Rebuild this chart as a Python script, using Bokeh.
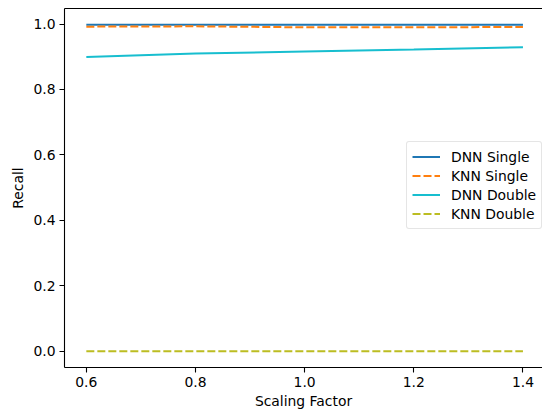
from bokeh.plotting import figure
from bokeh.models import Range1d, FixedTicker, Legend, LegendItem, NumeralTickFormatter, LinearAxis
from bokeh.embed import file_html
from bokeh.resources import INLINE

scaling = [0.6, 0.8, 1.0, 1.2, 1.4]
dnn_single = [0.998, 0.998, 0.998, 0.998, 0.998]
knn_single = [0.992, 0.993, 0.990, 0.990, 0.991]
dnn_double = [0.899, 0.910, 0.916, 0.922, 0.929]
knn_double = [0.0, 0.0, 0.0, 0.0, 0.0]

x_ticks = [0.6, 0.8, 1.0, 1.2, 1.4]
y_ticks = [0.0, 0.2, 0.4, 0.6, 0.8, 1.0]

FONT = "DejaVu Sans"
FS = "13.9px"

p = figure(frame_width=478, frame_height=359, output_backend="svg", toolbar_location=None,
           x_range=Range1d(0.56, 1.4358), y_range=Range1d(-0.05, 1.0475),
           min_border_left=64, min_border_top=8, min_border_right=0, min_border_bottom=10)

r1 = p.line(scaling, dnn_single, line_color="#1f77b4", line_width=2)
r2 = p.line(scaling, knn_single, line_color="#ff7f0e", line_width=2, line_dash="8 3")
r3 = p.line(scaling, dnn_double, line_color="#17becf", line_width=2)
r4 = p.line(scaling, knn_double, line_color="#bcbd22", line_width=2, line_dash="8 3")

p.xgrid.visible = False
p.ygrid.visible = False
p.outline_line_color = None

for ax in (p.xaxis[0], p.yaxis[0]):
    ax.minor_tick_line_color = None
    ax.major_tick_in = 0
    ax.major_tick_out = 5
    ax.major_tick_line_width = 1.1
    ax.axis_line_width = 1.1
    ax.major_label_text_font = FONT
    ax.major_label_text_font_size = FS
    ax.major_label_text_color = "black"
    ax.axis_label_text_font = FONT
    ax.axis_label_text_font_size = FS
    ax.axis_label_text_font_style = "normal"
    ax.axis_label_text_color = "black"
    ax.formatter = NumeralTickFormatter(format="0.0")

p.xaxis[0].ticker = FixedTicker(ticks=x_ticks)
p.yaxis[0].ticker = FixedTicker(ticks=y_ticks)
p.xaxis[0].axis_label = "Scaling Factor"
p.yaxis[0].axis_label = "Recall"
p.xaxis[0].major_label_standoff = 4
p.yaxis[0].major_label_standoff = 4
p.xaxis[0].axis_label_standoff = 3
p.yaxis[0].axis_label_standoff = 4

top = LinearAxis(ticker=FixedTicker(ticks=[]), major_tick_in=0, major_tick_out=0,
                 minor_tick_line_color=None, major_label_text_font_size="0px",
                 major_label_standoff=0, axis_line_width=1.1, axis_line_color="black")
p.add_layout(top, "above")

legend = Legend(items=[
    LegendItem(label="DNN Single", renderers=[r1]),
    LegendItem(label="KNN Single", renderers=[r2]),
    LegendItem(label="DNN Double", renderers=[r3]),
    LegendItem(label="KNN Double", renderers=[r4]),
], location=(342, 138))
legend.label_text_font = FONT
legend.label_text_font_size = FS
legend.label_text_color = "black"
legend.border_line_color = "#cccccc"
legend.border_line_width = 1
legend.border_radius = 3
legend.background_fill_alpha = 0.8
legend.padding = 5
legend.spacing = 0
legend.margin = 0
legend.glyph_width = 28
legend.glyph_height = 19
legend.label_height = 19
legend.label_standoff = 11
p.add_layout(legend, "center")

open("out.html", "w").write(file_html(p, INLINE))
